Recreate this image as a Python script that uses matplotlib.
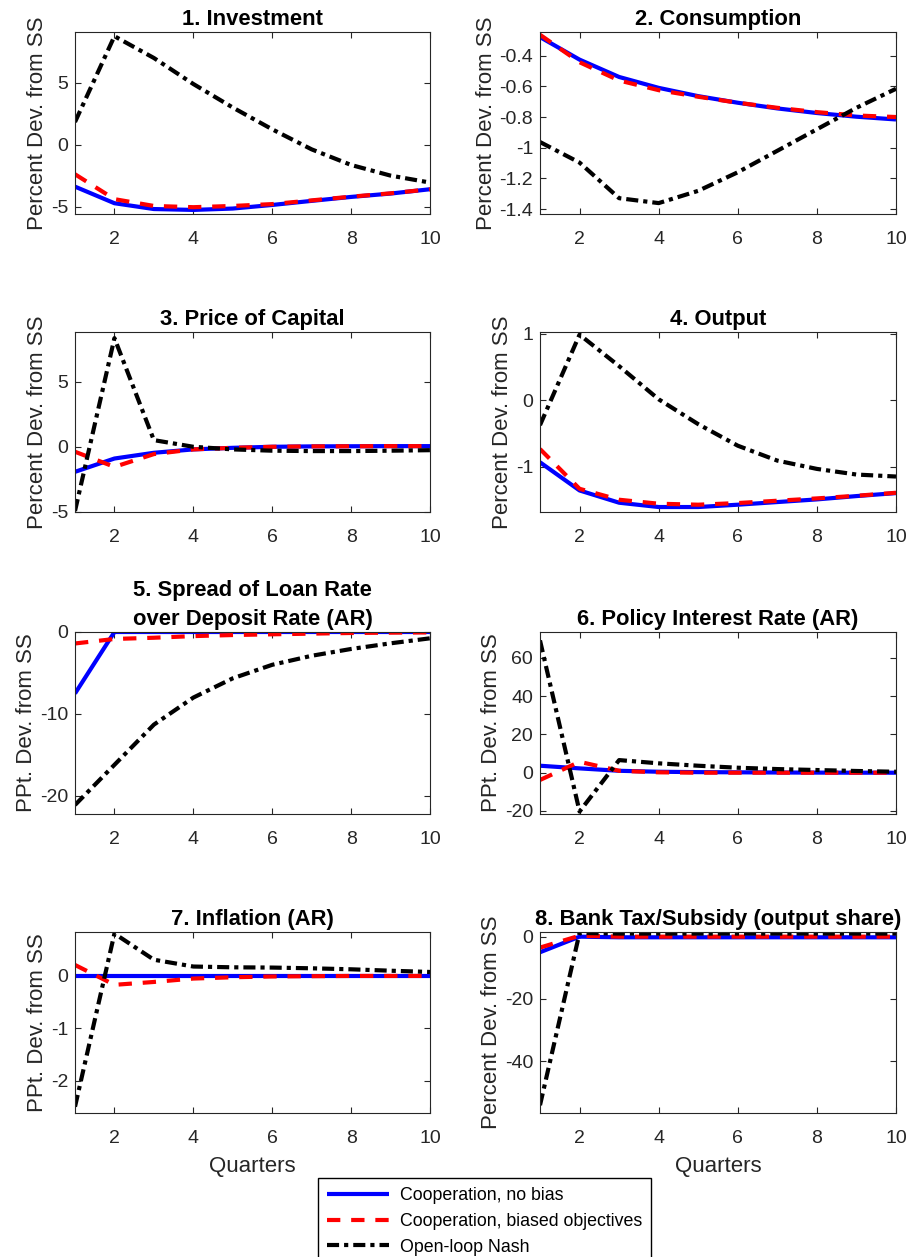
import numpy as np
import matplotlib
matplotlib.use("Agg")
import matplotlib.pyplot as plt
from matplotlib.ticker import FormatStrFormatter

plt.rcParams['font.family'] = ['Liberation Sans', 'DejaVu Sans']
plt.rcParams['axes.unicode_minus'] = False

quarters = np.arange(1, 11)

titles = ["1. Investment", "2. Consumption", "3. Price of Capital", "4. Output",
          "5. Spread of Loan Rate\nover Deposit Rate (AR)", "6. Policy Interest Rate (AR)",
          "7. Inflation (AR)", "8. Bank Tax/Subsidy (output share)"]
ylabels = ["Percent Dev. from SS"] * 4 + ["PPt. Dev. from SS"] * 3 + ["Percent Dev. from SS"]

# Cooperation, no bias
coop = [
    [-3.39, -4.73, -5.2, -5.27, -5.16, -4.87, -4.54, -4.22, -3.95, -3.6],
    [-0.279, -0.426, -0.539, -0.61, -0.664, -0.707, -0.744, -0.774, -0.798, -0.816],
    [-1.92, -0.9, -0.46, -0.2, -0.08, 0.0, 0.03, 0.04, 0.05, 0.05],
    [-0.935, -1.36, -1.545, -1.61, -1.61, -1.575, -1.535, -1.495, -1.445, -1.4],
    [-7.5, 0.0, 0.0, 0.0, 0.0, 0.0, 0.0, 0.0, 0.0, 0.0],
    [3.65, 2.26, 1.0, 0.5, 0.3, 0.2, 0.1, 0.05, 0.0, 0.0],
    [0.0, 0.0, 0.0, 0.0, 0.0, 0.0, 0.0, 0.0, 0.0, 0.0],
    [-5.0, 0.0, -0.2, -0.2, -0.2, -0.2, -0.2, -0.2, -0.2, -0.2],
]
# Cooperation, biased objectives
biased = [
    [-2.39, -4.4, -4.95, -5.05, -4.95, -4.8, -4.5, -4.2, -3.93, -3.6],
    [-0.264, -0.443, -0.562, -0.625, -0.668, -0.707, -0.74, -0.768, -0.79, -0.8],
    [-0.38, -1.54, -0.56, -0.2, -0.08, 0.0, 0.03, 0.04, 0.05, 0.05],
    [-0.735, -1.335, -1.5, -1.56, -1.575, -1.55, -1.515, -1.48, -1.44, -1.395],
    [-1.4, -0.85, -0.7, -0.5, -0.37, -0.28, -0.2, -0.12, -0.08, -0.05],
    [-3.8, 5.7, 1.0, 0.2, 0.0, 0.0, 0.0, 0.0, 0.0, 0.0],
    [0.21, -0.17, -0.115, -0.05, -0.025, -0.01, -0.005, 0.0, 0.0, 0.0],
    [-3.5, 0.3, 0.0, 0.0, 0.0, 0.0, 0.0, 0.0, 0.0, 0.0],
]
# Open-loop Nash
nash = [
    [1.83, 8.76, 7.0, 4.9, 3.0, 1.24, -0.38, -1.64, -2.5, -3.06],
    [-0.963, -1.097, -1.329, -1.361, -1.281, -1.16, -1.02, -0.88, -0.74, -0.616],
    [-4.92, 8.33, 0.51, 0.0, -0.2, -0.3, -0.33, -0.33, -0.3, -0.26],
    [-0.375, 0.99, 0.515, 0.015, -0.36, -0.685, -0.91, -1.035, -1.12, -1.15],
    [-21.1, -16.2, -11.3, -8.0, -5.65, -4.0, -2.9, -2.07, -1.38, -0.77],
    [69.2, -20.3, 6.6, 4.9, 3.65, 2.6, 1.9, 1.4, 0.9, 0.5],
    [-2.5, 0.81, 0.31, 0.18, 0.165, 0.16, 0.146, 0.127, 0.1, 0.076],
    [-54.1, 1.2, 1.0, 1.0, 1.0, 1.0, 1.0, 1.0, 1.0, 1.0],
]

ylims = [(-5.6, 9.1), (-1.432, -0.246), (-5.0, 8.8), (-1.685, 1.03),
         (-22.2, 0.0), (-21.6, 73.6), (-2.62, 0.84), (-56.6, 1.5)]
yticks = [[-5, 0, 5], [-1.4, -1.2, -1, -0.8, -0.6, -0.4], [-5, 0, 5], [-1, 0, 1],
          [-20, -10, 0], [-20, 0, 20, 40, 60], [-2, -1, 0], [-40, -20, 0]]

W, H = 908, 1257
fig = plt.figure(figsize=(W / 100, H / 100), dpi=100)

cols = [(75, 430), (540, 896)]
rows = [(32, 214), (332, 512), (632, 814), (932, 1113)]

lw = 3.0
for i in range(8):
    c0, c1 = cols[i % 2]
    r0, r1 = rows[i // 2]
    ax = fig.add_axes([c0 / W, 1 - r1 / H, (c1 - c0) / W, (r1 - r0) / H])
    l1, = ax.plot(quarters, coop[i], color='blue', lw=lw, solid_capstyle='butt')
    l2, = ax.plot(quarters, biased[i], color='red', lw=lw, dashes=(3.2, 2.6))
    l3, = ax.plot(quarters, nash[i], color='black', lw=lw, dashes=(2.9, 1.2, 1.0, 1.2))
    ax.set_xlim(1, 10)
    ax.set_ylim(*ylims[i])
    ax.set_xticks([2, 4, 6, 8, 10])
    ax.set_yticks(yticks[i])
    ax.yaxis.set_major_formatter(FormatStrFormatter('%g'))
    ax.tick_params(direction='in', top=True, right=True, length=4, width=0.8,
                   labelsize=14, colors='#262626')
    ax.tick_params(axis='x', pad=12)
    ax.tick_params(axis='y', pad=5)
    for s in ax.spines.values():
        s.set_color('#262626')
        s.set_linewidth(0.8)
    ax.set_title(titles[i], fontsize=15.8, fontweight='bold', pad=5, linespacing=1.5)
    ax.set_ylabel(ylabels[i], fontsize=16, color='#262626', labelpad=2)
    if i >= 6:
        ax.set_xlabel("Quarters", fontsize=16, color='#262626', labelpad=7)

fig.legend([l1, l2, l3],
           ["Cooperation, no bias", "Cooperation, biased objectives", "Open-loop Nash"],
           loc='upper left', bbox_to_anchor=(318 / W, 1 - 1178 / H),
           borderaxespad=0, fancybox=False, edgecolor='black', framealpha=1,
           fontsize=12.8, handlelength=3.5, borderpad=0.5, labelspacing=0.5,
           handletextpad=0.6)

fig.savefig("out.png", dpi=100)
